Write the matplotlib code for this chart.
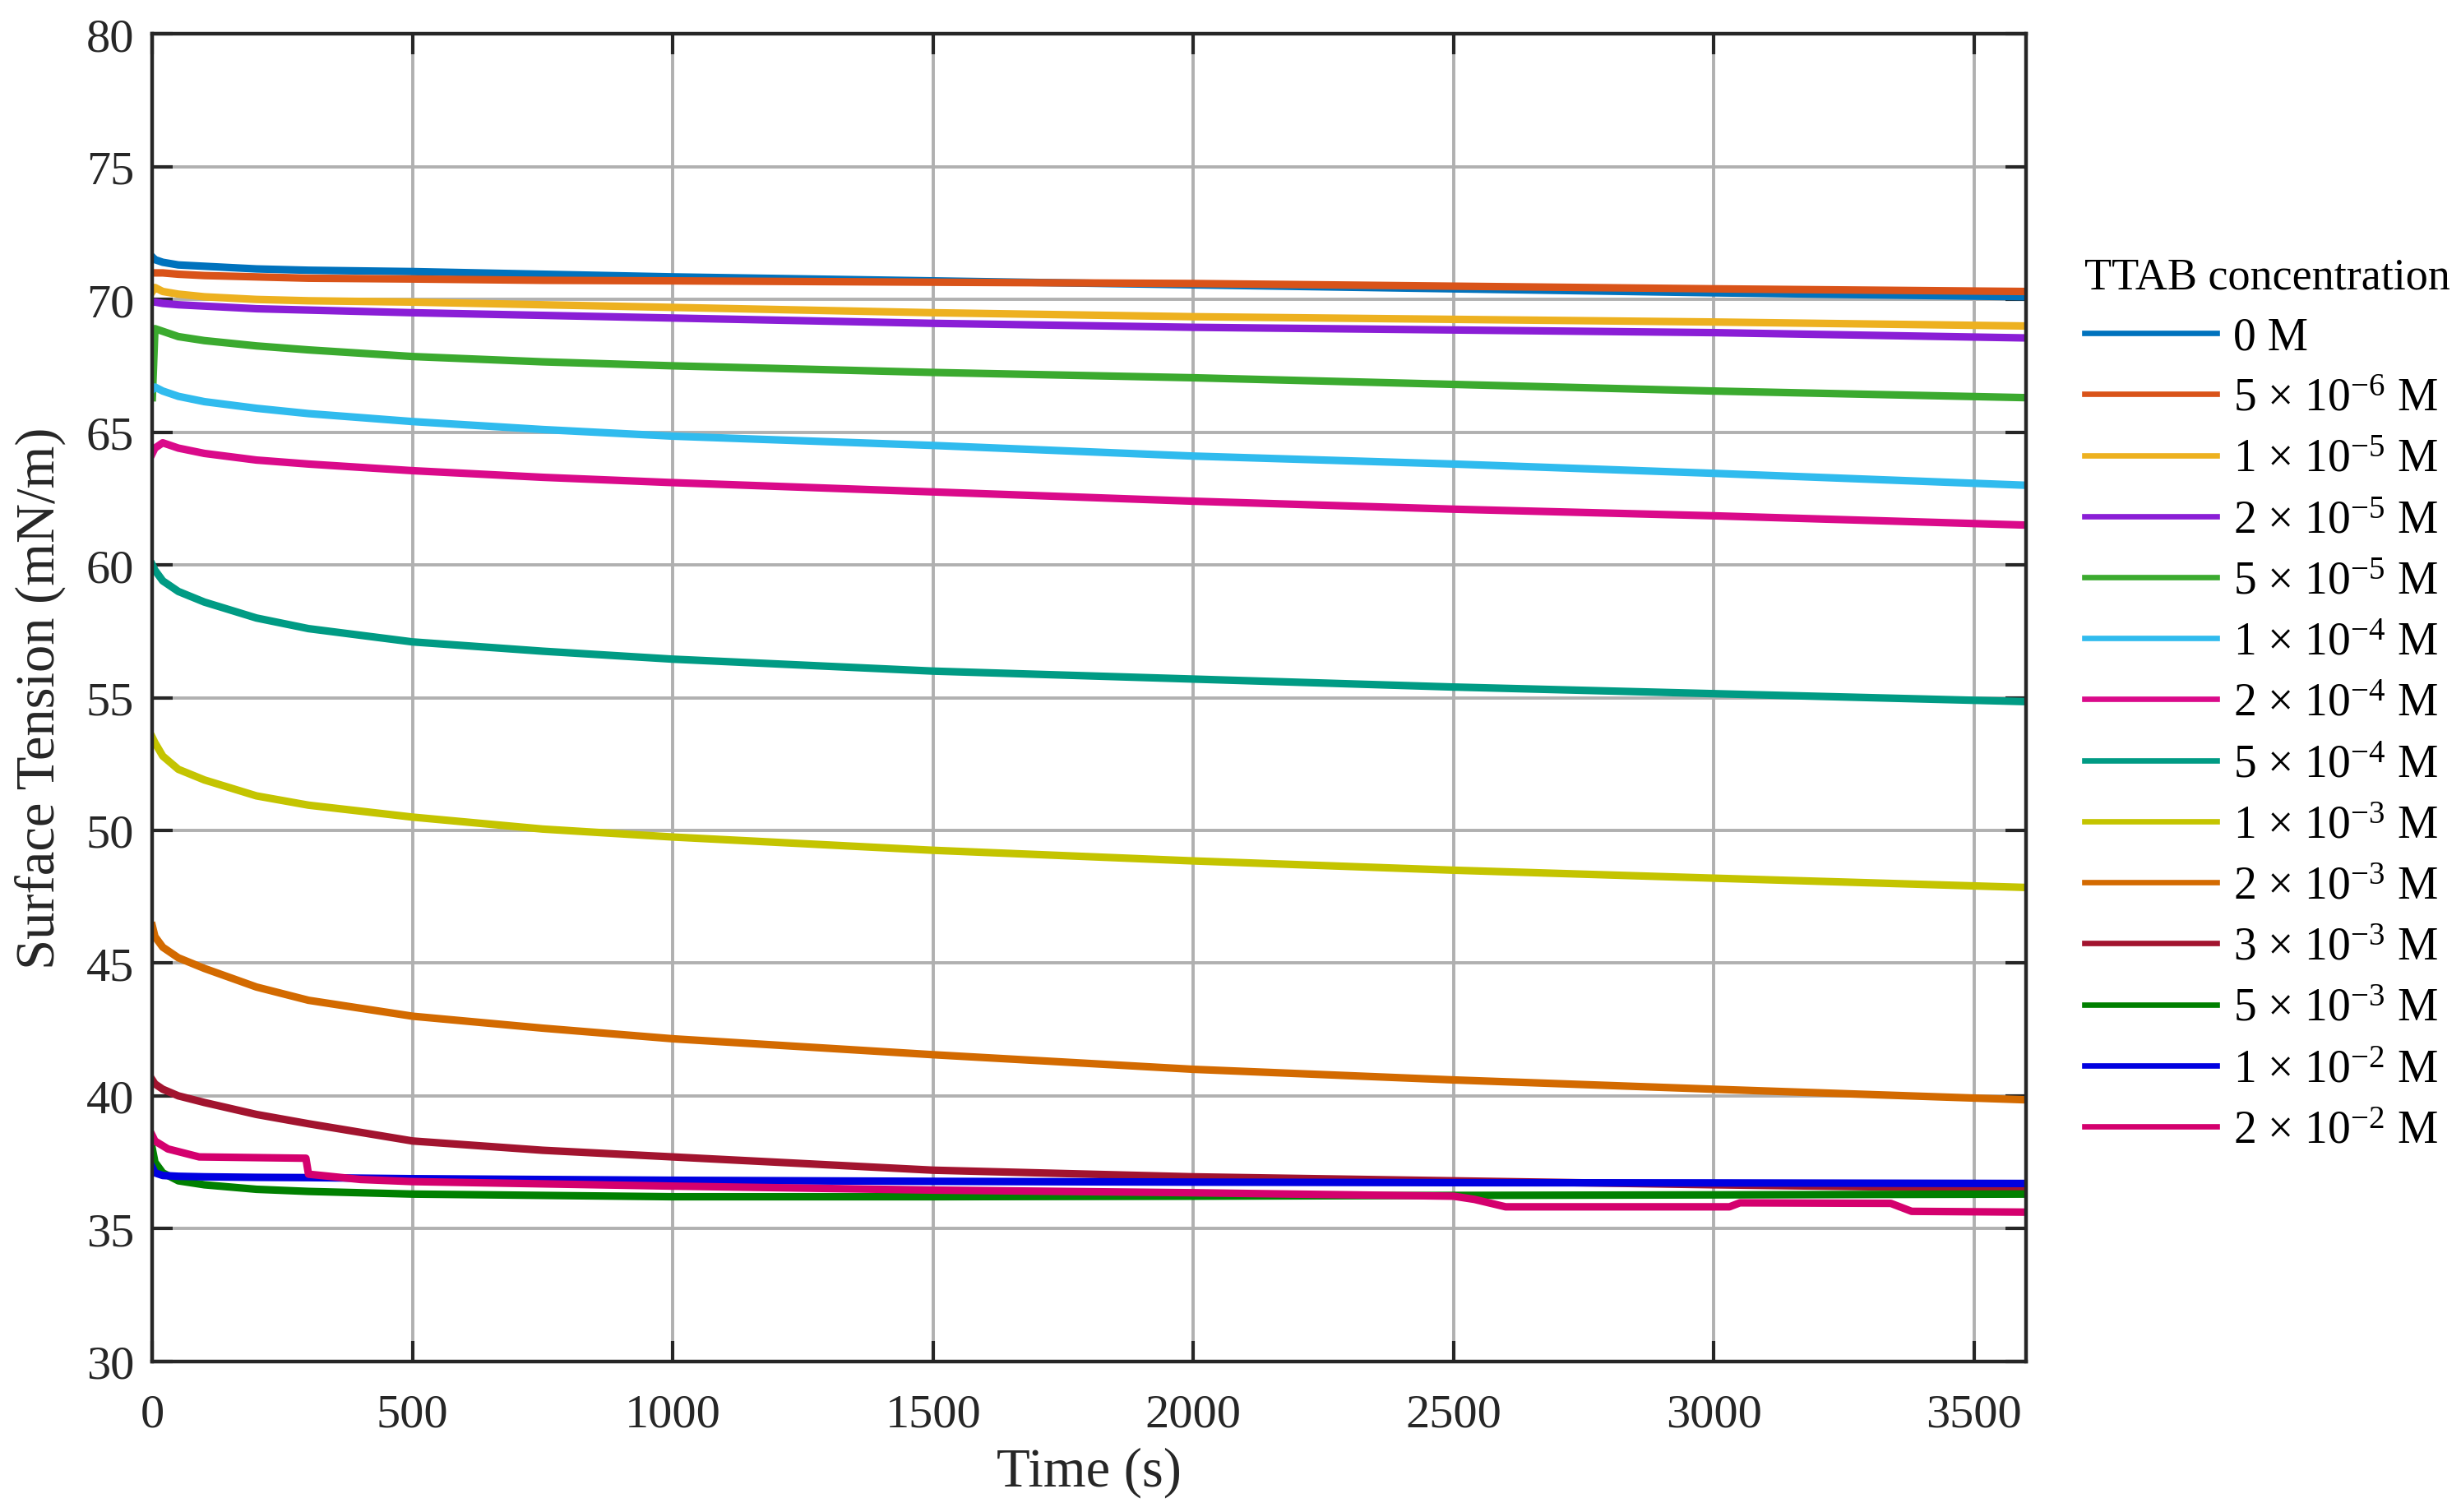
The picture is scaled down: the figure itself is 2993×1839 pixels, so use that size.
import matplotlib
matplotlib.use("Agg")
import matplotlib.pyplot as plt

# time in s, surface tension in mN/m
time_s = [0, 5, 20, 50, 100, 200, 300, 500, 750, 1000, 1500, 2000, 2500, 3000, 3600]

st_0M = [71.6, 71.5, 71.4, 71.3, 71.25, 71.15, 71.1, 71.05, 70.95, 70.85, 70.7, 70.55, 70.4, 70.25, 70.1]
st_5e6 = [71.0, 71.0, 71.0, 70.95, 70.9, 70.85, 70.8, 70.77, 70.72, 70.7, 70.65, 70.6, 70.5, 70.4, 70.3]
st_1e5 = [70.3, 70.45, 70.3, 70.2, 70.1, 70.0, 69.95, 69.9, 69.8, 69.7, 69.5, 69.35, 69.25, 69.15, 69.0]
st_2e5 = [69.9, 69.9, 69.85, 69.8, 69.75, 69.65, 69.6, 69.5, 69.4, 69.3, 69.1, 68.95, 68.85, 68.75, 68.55]
st_5e5 = [66.3, 68.9, 68.8, 68.6, 68.45, 68.25, 68.1, 67.85, 67.65, 67.5, 67.25, 67.05, 66.8, 66.55, 66.3]
st_1e4 = [66.6, 66.7, 66.55, 66.35, 66.15, 65.9, 65.7, 65.4, 65.1, 64.85, 64.5, 64.1, 63.8, 63.45, 63.0]
st_2e4 = [64.2, 64.4, 64.6, 64.4, 64.2, 63.95, 63.8, 63.55, 63.3, 63.1, 62.75, 62.4, 62.1, 61.85, 61.5]
st_5e4 = [60.0, 59.8, 59.4, 59.0, 58.6, 58.0, 57.6, 57.1, 56.75, 56.45, 56.0, 55.7, 55.4, 55.15, 54.85]
st_1e3 = [53.5, 53.3, 52.8, 52.3, 51.9, 51.3, 50.95, 50.5, 50.05, 49.75, 49.25, 48.85, 48.5, 48.2, 47.85]
st_2e3 = [46.4, 46.0, 45.6, 45.2, 44.8, 44.1, 43.6, 43.0, 42.55, 42.15, 41.55, 41.0, 40.6, 40.25, 39.85]
st_3e3 = [40.6, 40.45, 40.25, 40.0, 39.75, 39.3, 38.95, 38.3, 37.95, 37.7, 37.2, 36.95, 36.8, 36.65, 36.5]
st_5e3 = [38.0, 37.5, 37.1, 36.8, 36.65, 36.48, 36.4, 36.3, 36.25, 36.2, 36.2, 36.22, 36.25, 36.27, 36.3]
st_1e2 = [37.3, 37.1, 37.0, 36.97, 36.95, 36.93, 36.92, 36.88, 36.85, 36.82, 36.78, 36.75, 36.73, 36.72, 36.7]

# the 2e-2 M run has steps, so it keeps its own time points
time_2e2 = [0, 5, 30, 90, 295, 300, 400, 500, 1000, 1500, 2000, 2500, 2540, 2600, 3030, 3050, 3340, 3380, 3600]
st_2e2 = [38.5, 38.3, 38.0, 37.7, 37.65, 37.05, 36.85, 36.77, 36.6, 36.45, 36.35, 36.22, 36.1, 35.82, 35.82, 35.97, 35.95, 35.65, 35.62]

labels = [
    "0 M",
    "5 × 10$^{-6}$ M",
    "1 × 10$^{-5}$ M",
    "2 × 10$^{-5}$ M",
    "5 × 10$^{-5}$ M",
    "1 × 10$^{-4}$ M",
    "2 × 10$^{-4}$ M",
    "5 × 10$^{-4}$ M",
    "1 × 10$^{-3}$ M",
    "2 × 10$^{-3}$ M",
    "3 × 10$^{-3}$ M",
    "5 × 10$^{-3}$ M",
    "1 × 10$^{-2}$ M",
    "2 × 10$^{-2}$ M",
]
colors = [
    "#0072BD", "#D95319", "#EDB120", "#8A1ED6", "#3BAA2F", "#30BBEE", "#DA0A8A",
    "#009B84", "#C4C400", "#D36A00", "#A2142F", "#008000", "#0000E0", "#D4006E",
]

plt.rcParams["font.family"] = ["Liberation Serif", "DejaVu Serif"]
plt.rcParams["mathtext.fontset"] = "custom"
plt.rcParams["mathtext.rm"] = "Liberation Serif"
plt.rcParams["mathtext.it"] = "Liberation Serif:italic"

fig = plt.figure(figsize=(14.965, 9.2), dpi=200)
fig.subplots_adjust(left=0.0619, right=0.8233, top=0.977, bottom=0.0996)
ax = fig.add_subplot(111)

series = [st_0M, st_5e6, st_1e5, st_2e5, st_5e5, st_1e4, st_2e4, st_5e4,
          st_1e3, st_2e3, st_3e3, st_5e3, st_1e2]
for vals, lab, col in zip(series, labels[:-1], colors[:-1]):
    ax.plot(time_s, vals, color=col, lw=3.3, label=lab)
ax.plot(time_2e2, st_2e2, color=colors[-1], lw=3.3, label=labels[-1])

ax.set_xlim(0, 3600)
ax.set_ylim(30, 80)
ax.set_xticks(range(0, 3501, 500))
ax.set_yticks(range(30, 81, 5))
ax.grid(True, color="#b0b0b0", lw=1.4)
ax.set_axisbelow(True)
ax.tick_params(direction="in", length=9, width=1.5, top=True, right=True,
               labelsize=21, colors="#262626", pad=8)
ax.tick_params(axis="x", pad=14)
for sp in ax.spines.values():
    sp.set_linewidth(1.6)
    sp.set_color("#262626")

ax.set_xlabel("Time (s)", fontsize=24, color="#262626")
ax.set_ylabel("Surface Tension (mN/m)", fontsize=24, color="#262626")
ax.xaxis.set_label_coords(0.5, -0.064)
ax.yaxis.set_label_coords(-0.046, 0.5)

leg = ax.legend(loc="upper left", bbox_to_anchor=(0.847, 0.83),
                bbox_transform=fig.transFigure, frameon=False, fontsize=20,
                title="TTAB concentration", title_fontsize=19.5,
                handlelength=2.9, handletextpad=0.35, labelspacing=0.4,
                borderpad=0, borderaxespad=0, alignment="left")
for h in leg.get_lines():
    h.set_linewidth(2.4)

fig.savefig("out.png", dpi=200)
